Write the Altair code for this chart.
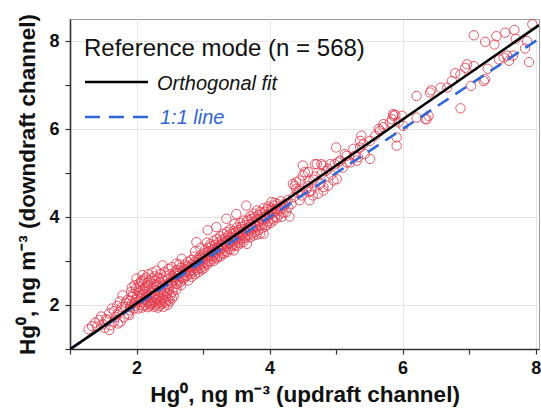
import altair as alt
import pandas as pd

# ---- data (x = updraft, y = downdraft, ng m-3) ----
low_pts = [(1.28,1.45),(1.33,1.52),(1.41,1.51),(1.44,1.66),(1.49,1.56),(1.52,1.48),(1.56,1.66),(1.59,1.43),
           (1.61,1.54),(1.63,1.92),(1.59,1.81),(1.54,1.68),(1.66,1.62),(1.69,1.73),(1.72,1.58),(1.74,1.84),
           (1.76,1.62),(1.78,1.95),(1.79,2.22),(1.81,1.72),(1.82,1.96),(1.84,2.05),(1.86,2.11),(1.87,1.80),
           (1.89,1.77),(1.47,1.74),(1.38,1.60),(1.66,1.86),(1.71,1.98),(1.75,2.08)]

cluster_pts = [(1.90,1.95),(1.91,2.10),(1.92,2.30),(1.90,1.88),(1.93,2.02),(1.94,2.18),(1.93,2.40),(1.96,1.92),
               (1.97,2.05),(1.95,2.25),(1.97,2.45),(1.99,2.37),(2.00,2.12),(1.98,1.98),(2.00,2.60),
               (2.02,1.92),(2.03,2.08),(2.01,2.20),(2.04,2.49),(2.02,2.33),(2.05,2.00),(2.06,2.15),(2.04,2.28),
               (2.07,2.55),(2.05,2.42),(2.08,1.94),(2.09,2.06),(2.07,2.22),(2.10,2.36),(2.08,2.52),(2.09,2.68),
               (2.11,1.98),(2.12,2.12),(2.10,2.25),(2.13,2.40),(2.11,2.58),(2.14,2.00),(2.15,2.10),(2.13,2.30),
               (2.16,2.45),(2.14,2.62),(2.15,2.20),(2.17,1.95),(2.18,2.05),(2.16,2.18),(2.19,2.34),(2.17,2.50),
               (2.18,2.70),(2.20,1.98),(2.21,2.08),(2.19,2.22),(2.22,2.38),(2.20,2.55),(2.21,2.03),(2.23,2.02),
               (2.24,2.12),(2.22,2.28),(2.25,2.42),(2.23,2.60),(2.24,2.74),(2.26,1.96),(2.27,2.06),(2.25,2.18),
               (2.28,2.32),(2.26,2.48),(2.27,2.65),(2.29,2.00),(2.30,2.11),(2.28,2.25),(2.31,2.40),(2.29,2.55),
               (2.30,2.78),(2.32,1.94),(2.33,2.04),(2.31,2.15),(2.34,2.30),(2.32,2.45),(2.33,2.62),(2.35,1.98),
               (2.36,2.08),(2.34,2.20),(2.37,2.36),(2.35,2.52),(2.36,2.70),(2.38,2.03),(2.39,2.14),(2.37,2.28),
               (2.40,2.44),(2.38,2.60),(2.39,2.90),(2.41,1.96),(2.42,2.10),(2.40,2.22),(2.43,2.38),(2.41,2.55),
               (2.42,2.75),(2.44,2.05),(2.45,2.18),(2.43,2.32),(2.46,2.48),(2.44,2.66),(2.47,2.00),(2.48,2.12),
               (2.46,2.26),(2.49,2.42),(2.47,2.58),(2.48,2.82),(2.50,2.08),(2.51,2.22),(2.49,2.36),(2.52,2.52),
               (2.50,2.70),(2.53,2.15),(2.54,2.30),(2.52,2.46),(2.55,2.62),(2.53,2.86),(2.56,2.20),(2.57,2.40),
               (2.55,2.56),(2.58,2.72),(2.59,2.49),(2.60,2.35),(2.58,2.62),(2.59,2.78),(2.60,2.94)]

band_pts = [(2.61,2.48),(2.61,2.66),(2.62,2.80),(2.63,2.58),(2.64,2.92),(2.63,2.72),(2.66,2.52),(2.65,2.70),
            (2.67,2.85),(2.68,2.62),(2.69,2.78),(2.68,3.05),(2.67,2.45),(2.71,2.68),(2.72,2.82),(2.70,2.58),
            (2.73,2.75),(2.74,2.92),(2.72,2.62),(2.76,2.66),(2.75,2.80),(2.77,2.98),(2.78,2.56),(2.79,2.74),
            (2.77,2.88),(2.81,2.70),(2.80,2.86),(2.82,3.02),(2.81,2.78),(2.83,2.64),(2.84,2.92),(2.83,2.80),
            (2.86,2.76),(2.85,2.88),(2.87,3.10),(2.88,2.70),(2.89,2.84),(2.87,2.98),(2.88,3.22),(2.91,2.80),
            (2.90,2.94),(2.92,3.06),(2.90,3.43),(2.93,2.74),(2.94,2.90),(2.93,3.02),(2.96,2.84),(2.95,2.98),
            (2.97,3.14),(2.96,3.30),(2.98,2.80),(2.99,2.94),(2.98,3.08),(3.01,2.88),(3.00,3.04),(3.02,3.18),
            (3.01,2.83),(3.03,2.96),(3.04,3.12),(3.03,3.26),(3.06,2.92),(3.05,3.06),(3.07,3.20),(3.06,3.42),
            (3.08,3.00),(3.09,3.14),(3.08,3.30),(3.07,3.70),(3.11,2.98),(3.10,3.10),(3.12,3.24),(3.11,3.38),
            (3.13,3.04),(3.14,3.20),(3.13,3.34),(3.16,3.00),(3.15,3.12),(3.17,3.28),(3.16,3.46),(3.18,3.08),
            (3.19,3.22),(3.18,3.36),(3.21,3.06),(3.20,3.18),(3.22,3.32),(3.20,3.77),(3.21,3.50),(3.23,3.12),
            (3.24,3.28),(3.23,3.42),(3.26,3.10),(3.25,3.24),(3.27,3.38),(3.26,3.56),(3.28,3.18),(3.29,3.34),
            (3.28,3.48),(3.31,3.16),(3.30,3.30),(3.32,3.44),(3.31,3.62),(3.33,3.22),(3.34,3.38),(3.33,3.52),
            (3.36,3.20),(3.35,3.34),(3.37,3.48),(3.35,3.96),(3.36,3.66),(3.38,3.28),(3.39,3.42),(3.38,3.58),
            (3.41,3.26),(3.40,3.40),(3.42,3.54),(3.41,3.72),(3.43,3.34),(3.44,3.48),(3.43,3.62),(3.46,3.24),
            (3.45,3.38),(3.47,3.52),(3.46,3.68),(3.48,3.36),(3.49,3.50),(3.48,3.64),(3.47,3.84),(3.51,3.34),
            (3.50,3.46),(3.52,3.60),(3.50,4.07),(3.51,3.76),(3.53,3.42),(3.54,3.56),(3.53,3.70),(3.56,3.40),
            (3.55,3.52),(3.57,3.66),(3.56,3.86),(3.58,3.48),(3.59,3.62),(3.58,3.78),(3.61,3.44),(3.60,3.58),
            (3.62,3.72),(3.61,3.92),(3.63,3.52),(3.64,3.68),(3.63,3.82),(3.66,3.39),(3.65,3.56),(3.67,3.70),
            (3.65,4.26),(3.66,3.90),(3.68,3.60),(3.69,3.76),(3.68,3.94),(3.71,3.54),(3.70,3.68),(3.72,3.84),
            (3.71,4.02),(3.73,3.62),(3.74,3.78),(3.73,3.96),(3.76,3.58),(3.75,3.74),(3.77,3.90),(3.76,4.08),
            (3.78,3.66),(3.79,3.82),(3.78,4.00),(3.81,3.60),(3.80,3.78),(3.82,3.94),(3.81,4.15),(3.83,3.70),
            (3.84,3.88),(3.83,4.04),(3.86,3.62),(3.85,3.80),(3.87,3.96),(3.86,4.12),(3.88,3.74),(3.89,3.92),
            (3.88,4.08),(3.91,3.62),(3.90,3.84),(3.92,4.00),(3.91,4.20),(3.93,3.78),(3.94,3.96),(3.93,4.12),
            (3.96,3.82),(3.95,4.02),(3.97,4.18),(3.98,3.90),(3.99,4.06),(3.98,4.24),(4.01,3.86),(4.00,4.04),
            (4.02,4.20),(4.03,4.15),(4.04,3.96),(4.03,4.34),(4.06,3.92),(4.05,4.10),(4.07,4.26),(4.08,4.00),
            (4.09,4.18),(4.08,4.32),(4.11,3.98),(4.10,4.14),(4.12,4.30),(4.15,4.15),(4.14,4.05),(4.16,4.24),
            (4.18,4.00),(4.19,4.20),(4.17,4.36),(4.21,4.10),(4.22,4.26),(4.25,4.11),(4.24,4.30),(4.28,4.22),
            (4.27,4.38),(4.30,4.01)]

upper_pts = [(4.33,4.30),(4.35,4.75),(4.36,4.45),(4.38,4.71),(4.40,4.64),(4.40,4.79),(4.42,4.55),(4.45,4.60),
             (4.45,4.83),(4.45,4.38),(4.48,4.49),(4.50,5.17),(4.50,4.94),(4.53,5.02),(4.55,4.62),(4.58,5.02),
             (4.58,4.70),(4.60,4.38),(4.60,4.83),(4.60,4.57),(4.63,4.60),(4.65,4.49),(4.66,4.85),(4.68,5.20),
             (4.68,4.92),(4.71,5.20),(4.73,4.53),(4.76,4.75),(4.78,5.20),(4.78,4.98),(4.81,4.68),(4.81,4.60),
             (4.81,5.17),(4.85,5.05),(4.88,5.09),(4.88,4.71),(4.91,5.20),(4.93,4.96),(4.96,4.83),(4.98,5.20),
             (5.00,5.58),(5.01,4.86),(5.03,5.24),(5.06,5.28),(5.10,5.12),(5.13,5.43),(5.16,5.24),(5.16,5.39),
             (5.21,5.24),(5.26,5.55),(5.28,5.39),(5.31,5.28),(5.33,5.36),(5.36,5.58),(5.36,5.73),(5.38,5.85),
             (5.41,5.66),(5.43,5.43),(5.51,5.73),(5.51,5.32),(5.59,5.85),(5.64,6.00),(5.66,5.96),(5.71,6.04),
             (5.71,6.11),(5.81,6.15),(5.84,6.22),(5.86,6.30),(5.86,6.34),(5.89,6.32),(5.91,5.81),(5.91,5.62),
             (5.94,6.15),(5.99,6.30),(6.01,6.07),(6.21,6.26),(6.21,6.75),(6.34,6.23),(6.36,6.22),(6.39,6.30),
             (6.41,6.83),(6.43,6.88),(6.57,6.94),(6.67,6.94),(6.74,7.09),(6.79,7.27),(6.87,7.24),(6.87,6.47),
             (6.94,7.39),(6.97,7.47),(7.03,6.98),(7.07,7.43),(7.07,8.13),(7.22,7.09),(7.24,7.13),(7.24,7.98),
             (7.28,7.37),(7.38,7.92),(7.41,8.11),(7.45,7.58),(7.52,7.62),(7.54,8.19),(7.57,7.67),(7.60,7.55),
             (7.66,7.67),(7.68,8.25),(7.70,8.05),(7.84,7.83),(7.87,8.00),(7.90,7.52),(7.95,8.38)]

fit_x = [1.0, 8.05]
fit_y = [0.99, 8.36]
one_x = [1.0, 8.05]
one_y = [1.0, 8.05]

axis_ticks = [1, 2, 3, 4, 5, 6, 7, 8]
legend_title = "Reference mode (n = 568)"
legend_fit = "Orthogonal fit"
legend_one = "1:1 line"

pts = low_pts + cluster_pts + band_pts + upper_pts
df = pd.DataFrame(pts, columns=["x", "y"])
fit_df = pd.DataFrame({"x": fit_x, "y": fit_y})
one_df = pd.DataFrame({"x": one_x, "y": one_y})

FONT = "Liberation Sans"
grid_cond = {"condition": {"test": "datum.value % 2 == 0", "value": 1}, "value": 0}
label_expr = "datum.value % 2 == 0 ? datum.label : ''"

xaxis = alt.Axis(values=axis_ticks, labelExpr=label_expr, gridOpacity=grid_cond,
                 title="Hg⁰, ng m⁻³ (updraft channel)", titlePadding=6, labelPadding=5)
yaxis = alt.Axis(values=axis_ticks, labelExpr=label_expr, gridOpacity=grid_cond,
                 title="Hg⁰, ng m⁻³ (downdraft channel)", titlePadding=9, labelPadding=6)

X = alt.X("x:Q", scale=alt.Scale(domain=[1, 8.05], nice=False, zero=False), axis=xaxis)
Y = alt.Y("y:Q", scale=alt.Scale(domain=[1, 8.5], nice=False, zero=False), axis=yaxis)

points = alt.Chart(df).mark_point(shape="circle", filled=False, size=88, strokeWidth=1,
                                  color="#e43d50", opacity=0.85).encode(x=X, y=Y)

fit_line = alt.Chart(fit_df).mark_line(color="#000000", strokeWidth=2.6, clip=True).encode(x=X, y=Y)
one_line = alt.Chart(one_df).mark_line(color="#2f66d8", strokeWidth=2.6, strokeDash=[13, 8],
                                       clip=True).encode(x=X, y=Y)

one = pd.DataFrame({"a": [0]})
leg_title = alt.Chart(one).mark_text(align="left", baseline="alphabetic", font=FONT, fontSize=24,
                                     color="#111111").encode(
    x=alt.value(14), y=alt.value(37), text=alt.value(legend_title))
leg_fit_rule = alt.Chart(one).mark_rule(color="#000000", strokeWidth=2.6).encode(
    x=alt.value(15), x2=alt.value(78), y=alt.value(63))
leg_fit_txt = alt.Chart(one).mark_text(align="left", baseline="alphabetic", font=FONT, fontSize=20,
                                       fontStyle="italic", color="#111111").encode(
    x=alt.value(87), y=alt.value(71), text=alt.value(legend_fit))
leg_one_rule = alt.Chart(one).mark_rule(color="#2f66d8", strokeWidth=2.6, strokeDash=[15, 9]).encode(
    x=alt.value(15), x2=alt.value(78), y=alt.value(98))
leg_one_txt = alt.Chart(one).mark_text(align="left", baseline="alphabetic", font=FONT, fontSize=20,
                                       fontStyle="italic", color="#2f66d8").encode(
    x=alt.value(90), y=alt.value(105), text=alt.value(legend_one))

chart = alt.layer(points, one_line, fit_line, leg_title, leg_fit_rule, leg_fit_txt,
                  leg_one_rule, leg_one_txt).properties(
    width=469, height=330,
    autosize=alt.AutoSizeParams(type="none"),
    padding={"left": 70, "top": 19, "right": 2, "bottom": 59},
    background="white",
).configure_view(stroke="#9a9a9a", strokeWidth=1).configure_axis(
    labelFont=FONT, labelFontSize=18, labelFontWeight="bold", labelColor="#111111",
    titleFont=FONT, titleFontSize=22.5, titleFontWeight="bold", titleColor="#111111",
    tickSize=5, tickColor="#333333", tickWidth=1.2,
    domainColor="#333333", domainWidth=1.6, gridColor="#e6e6e6", gridWidth=1,
)

chart.save("out.html", embed_options={"renderer": "svg", "actions": False})
